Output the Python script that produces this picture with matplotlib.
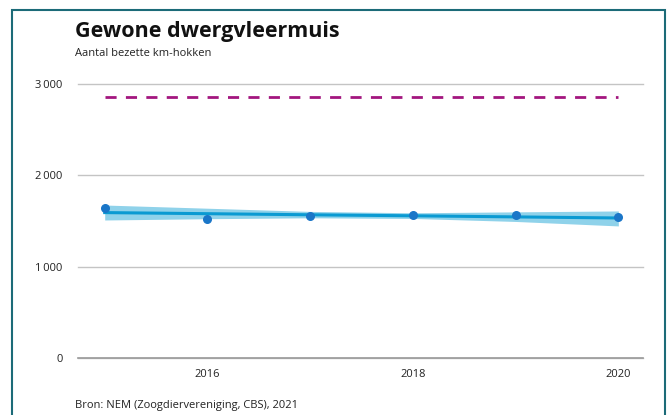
import matplotlib.pyplot as plt
from matplotlib.patches import Rectangle
from matplotlib.ticker import FuncFormatter

plt.rcParams['font.family'] = ['Open Sans', 'DejaVu Sans']

# Data
years = [2015, 2016, 2017, 2018, 2019, 2020]
values = [1643, 1522, 1555, 1566, 1566, 1544]
trend = [1592, 1580, 1568, 1557, 1545, 1533]
trend_low = [1511, 1525, 1535, 1528, 1495, 1446]
trend_high = [1675, 1640, 1605, 1590, 1600, 1610]
target_years = [2015, 2020]
target = [2858, 2858]

fig = plt.figure(figsize=(6.72, 4.15), dpi=100)
ax = fig.add_axes([78 / 672, 1 - 358 / 415, (643 - 78) / 672, (358 - 84) / 415])

# frame around the chart
fig.patches.append(Rectangle((12 / 672, -0.05), (665 - 12) / 672, 1 - 10 / 415 + 0.05,
                             transform=fig.transFigure, fill=False,
                             edgecolor='#1c6b78', linewidth=1.5))

ax.fill_between(years, trend_low, trend_high, color='#8fd2ea', linewidth=0, zorder=2)
ax.plot(years, trend, color='#0a9ad2', linewidth=2.2, zorder=3)
ax.scatter(years, values, color='#1a76c8', s=30, zorder=4, clip_on=False)
ax.plot(target_years, target, color='#a3167f', linewidth=2, dashes=(4, 3.35), zorder=3)

ax.set_xlim(2014.74, 2020.24)
ax.set_ylim(0, 3000)
ax.set_yticks([0, 1000, 2000, 3000])
ax.yaxis.set_major_formatter(FuncFormatter(lambda v, p: f"{int(v):,}".replace(',', '\u2009')))
ax.set_xticks([2016, 2018, 2020])
ax.grid(axis='y', color='#c4c4c4', linewidth=1)
for gl in ax.get_ygridlines():
    gl.set_clip_on(False)
ax.axhline(0, color='#9a9a9a', linewidth=1.2, clip_on=False, zorder=1)
ax.set_axisbelow(True)
for s in ax.spines.values():
    s.set_visible(False)
ax.tick_params(axis='both', length=0, labelsize=8, colors='#222222')
ax.tick_params(axis='y', pad=11)
ax.tick_params(axis='x', pad=8)

fig.text(75 / 672, 1 - 32 / 415, "Gewone dwergvleermuis", fontsize=15.5, fontweight='bold',
         va='center', color='#111111')
fig.text(75 / 672, 1 - 53 / 415, "Aantal bezette km-hokken", fontsize=8, va='center',
         color='#222222')
fig.text(75 / 672, 1 - 405 / 415, "Bron: NEM (Zoogdiervereniging, CBS), 2021", fontsize=8,
         va='center', color='#222222')

fig.savefig('out.png', dpi=100)
